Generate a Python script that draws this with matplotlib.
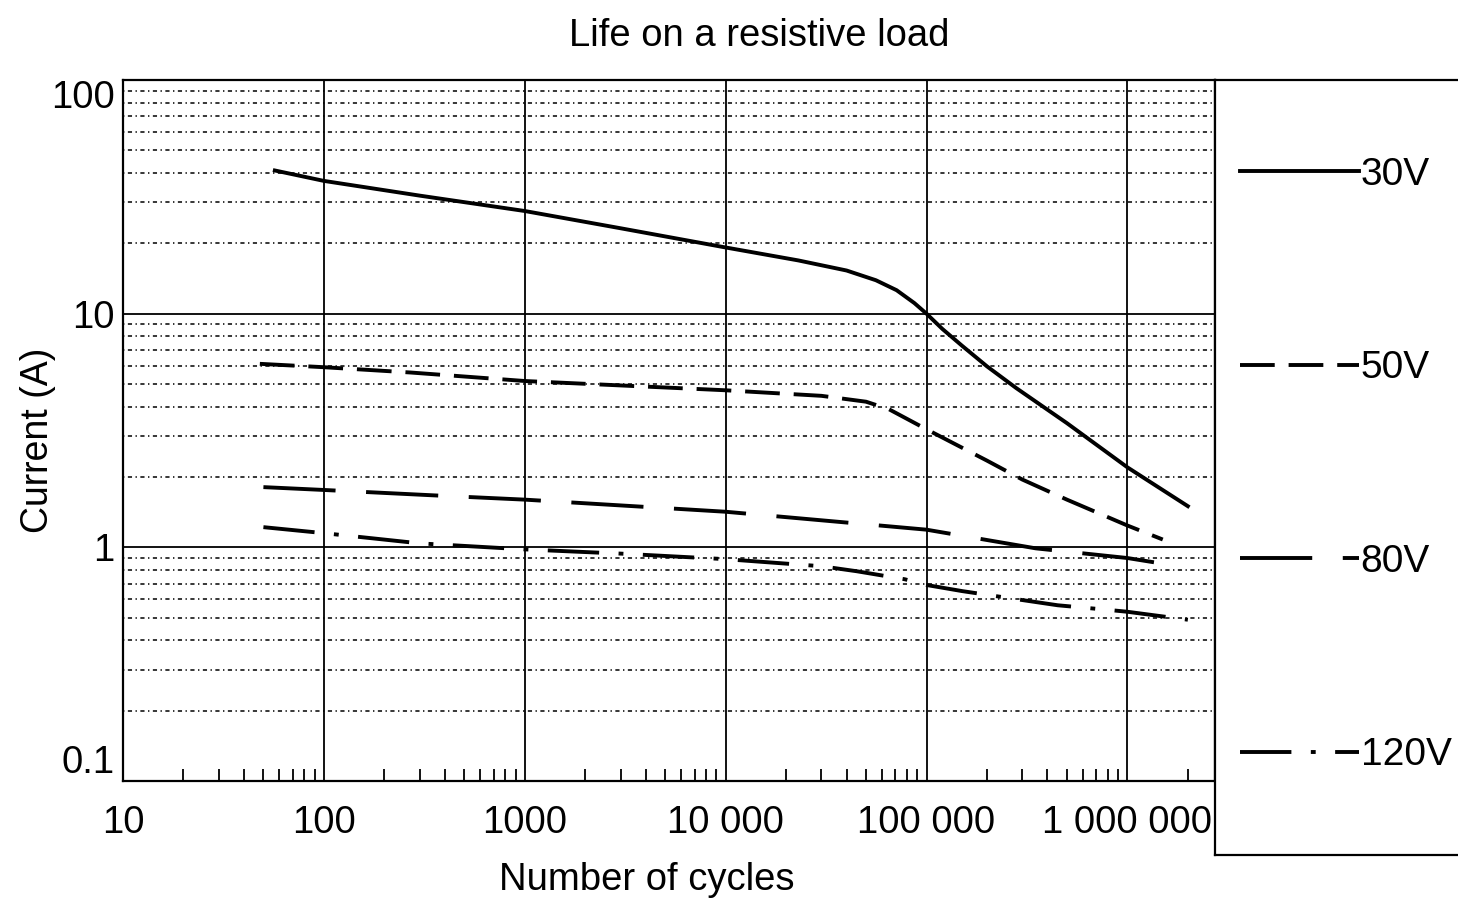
import matplotlib
matplotlib.use("Agg")
import matplotlib.pyplot as plt
from matplotlib.ticker import FixedLocator, NullFormatter
from matplotlib.lines import Line2D

plt.rcParams['font.family'] = ['Liberation Sans', 'DejaVu Sans']
plt.rcParams['lines.scale_dashes'] = False

# data
x30 = [57, 100, 300, 1000, 3000, 10000, 23000, 40000, 56000, 71000, 87000, 100000, 120000, 150000, 200000, 280000, 500000, 1000000, 2000000]
y30 = [41, 37, 32, 27.5, 23.2, 19.2, 16.9, 15.3, 13.9, 12.6, 11.1, 10, 8.6, 7.3, 5.95, 4.8, 3.4, 2.2, 1.5]

x50 = [48, 100, 270, 1000, 10000, 30000, 50000, 65000, 100000, 200000, 300000, 500000, 1000000, 1500000]
y50 = [6.1, 5.9, 5.6, 5.15, 4.7, 4.45, 4.2, 3.9, 3.2, 2.35, 1.95, 1.6, 1.24, 1.08]

x80 = [50, 100, 400, 1000, 10000, 100000, 350000, 1000000, 1800000]
y80 = [1.81, 1.76, 1.66, 1.6, 1.42, 1.19, 0.99, 0.90, 0.83]

x120 = [50, 100, 300, 1000, 3000, 10000, 30000, 45000, 78000, 100000, 150000, 280000, 450000, 800000, 1000000, 2000000]
y120 = [1.22, 1.15, 1.04, 0.98, 0.94, 0.89, 0.83, 0.79, 0.73, 0.69, 0.65, 0.60, 0.565, 0.54, 0.53, 0.49]

labels = ["30V", "50V", "80V", "120V"]
xticks = [10, 100, 1000, 10000, 100000, 1000000]
xticklabels = ["10", "100", "1000", "10 000", "100 000", "1 000 000"]
yticks = [0.1, 1, 10, 100]
yticklabels = ["0.1", "1", "10", "100"]

styles = ["-", (0, (25, 10)), (0, (52, 22)), (0, (37, 14, 3.5, 14))]
fs = 27.5

fig = plt.figure(figsize=(14.58, 9), dpi=100)
ax = fig.add_axes([123 / 1458, 1 - 781 / 900, (1215 - 123) / 1458, (781 - 80) / 900])
ax.set_xscale("log")
ax.set_yscale("log")
ax.set_xlim(10, 2.73e6)
ax.set_ylim(0.1, 100)

# grid: decades solid, minor y dotted
for xv in xticks[1:]:
    ax.axvline(xv, color="black", lw=1.3, zorder=1)
for yv in [1, 10]:
    ax.axhline(yv, color="black", lw=1.3, zorder=1)
for dec in [0.1, 1, 10]:
    for m in range(2, 10):
        ax.axhline(dec * m, color="black", lw=1.1, ls=(0, (1, 2.5, 3, 2.5)), zorder=1)

series = [(x30, y30), (x50, y50), (x80, y80), (x120, y120)]
handles = []
for (xs, ys), st in zip(series, styles):
    ax.plot(xs, ys, color="black", lw=2.8, ls=st, zorder=3)
    handles.append(Line2D([], [], color="black", lw=2.8, ls=st))

ax.xaxis.set_major_locator(FixedLocator(xticks))
ax.set_xticklabels(xticklabels)
minors = [d * m for d in [10, 100, 1000, 10000, 100000] for m in range(2, 10)] + [2000000]
ax.xaxis.set_minor_locator(FixedLocator(minors))
ax.xaxis.set_minor_formatter(NullFormatter())
ax.tick_params(axis="x", which="minor", direction="in", length=9, width=1.3)
ax.tick_params(axis="x", which="major", length=0, pad=17, labelsize=fs)

ax.yaxis.set_major_locator(FixedLocator(yticks))
ax.set_yticklabels(yticklabels)
ax.yaxis.set_minor_locator(FixedLocator([]))
ax.tick_params(axis="y", which="major", length=0, pad=6, labelsize=fs)
ylabs = ax.get_yticklabels()
ylabs[0].set_va("bottom")
ylabs[-1].set_va("top")

for sp in ax.spines.values():
    sp.set_linewidth(1.6)

fig.text(759 / 1458, 1 - 36 / 900, "Life on a resistive load", ha="center", va="center", fontsize=27.5)
fig.text(647 / 1458, 1 - 880 / 900, "Number of cycles", ha="center", va="center", fontsize=27.5)
fig.text(38 / 1458, 1 - 440 / 900, "Current (A)", ha="center", va="center", rotation=90, fontsize=27)

# legend box on the right
lax = fig.add_axes([1215 / 1458, 1 - 855 / 900, 0.2, (855 - 80) / 900])
lax.set_xticks([])
lax.set_yticks([])
lax.spines["right"].set_visible(False)
for s in ["left", "top", "bottom"]:
    lax.spines[s].set_linewidth(1.6)
lax.legend(handles, labels, loc="center left", bbox_to_anchor=(25 / 291.6, 0.503),
           frameon=False, fontsize=28, handlelength=3.05, handletextpad=0.05,
           labelspacing=4.05, borderpad=0, borderaxespad=0)

fig.savefig("out.png", dpi=100)
